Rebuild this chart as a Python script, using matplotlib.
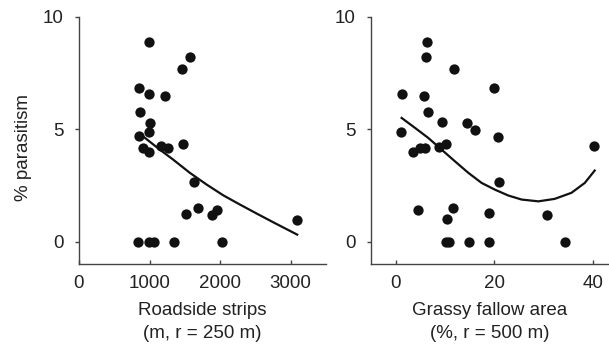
import matplotlib.pyplot as plt

plt.rcParams['font.family'] = ['Liberation Sans', 'DejaVu Sans']

# Roadside strips (m, r = 250 m) vs % parasitism
road_x = [995, 1573, 1455, 844, 995, 1223, 867, 1000, 995, 853, 1480, 900, 995,
          1156, 1262, 1630, 1680, 1520, 1887, 1949, 3095, 839, 990, 1060, 1340, 2022]
road_y = [8.89, 8.23, 7.67, 6.82, 6.57, 6.47, 5.76, 5.30, 4.90, 4.71, 4.36, 4.17, 3.99,
          4.28, 4.17, 2.65, 1.51, 1.25, 1.18, 1.42, 0.99, 0, 0, 0, 0, 0]
# fitted curve
road_fit_x = [908, 1145, 1333, 1570, 1807, 2043, 2279, 2516, 2752, 3092]
road_fit_y = [4.69, 4.10, 3.66, 3.07, 2.55, 2.07, 1.66, 1.26, 0.87, 0.32]

# Grassy fallow area (%, r = 500 m) vs % parasitism
fallow_x = [6.3, 6.2, 11.8, 1.2, 5.8, 20.0, 6.5, 9.3, 14.5, 16.0, 1.1, 20.7, 40.1,
            3.6, 5.0, 6.0, 8.7, 10.2, 20.9, 4.6, 11.6, 18.9, 10.3, 30.6,
            10.1, 10.8, 14.9, 18.8, 34.3]
fallow_y = [8.89, 8.23, 7.68, 6.59, 6.47, 6.84, 5.76, 5.32, 5.27, 4.99, 4.89, 4.68, 4.28,
            3.99, 4.19, 4.19, 4.22, 4.36, 2.64, 1.42, 1.51, 1.29, 1.00, 1.18,
            0, 0, 0, 0, 0]
fallow_fit_x = [1.2, 3.9, 6.6, 9.3, 12.0, 14.7, 17.4, 20.1, 22.8, 25.5, 28.9,
                32.2, 35.6, 38.3, 40.3]
fallow_fit_y = [5.51, 5.07, 4.62, 4.10, 3.58, 3.07, 2.62, 2.32, 2.06, 1.88, 1.80,
                1.91, 2.18, 2.62, 3.17]

fig = plt.figure(figsize=(6.09, 3.51), dpi=100)
ax1 = fig.add_axes([79 / 609, 0.247, 247 / 609, 0.7046])
ax2 = fig.add_axes([371 / 609, 0.247, 238 / 609, 0.7046])

panels = [
    (ax1, road_x, road_y, road_fit_x, road_fit_y, (0, 3500), [0, 1000, 2000, 3000],
     "Roadside strips\n(m, r = 250 m)"),
    (ax2, fallow_x, fallow_y, fallow_fit_x, fallow_fit_y, (-5, 43.2), [0, 20, 40],
     "Grassy fallow area\n(%, r = 500 m)"),
]

fs = 13.5
for ax, x, y, fx, fy, xlim, xticks, xlabel in panels:
    ax.scatter(x, y, s=55, color='#111111', zorder=3, linewidths=0)
    ax.plot(fx, fy, color='#111111', lw=1.6, zorder=2)
    ax.set_xlim(*xlim)
    ax.set_ylim(-1, 10)
    ax.set_xticks(xticks)
    ax.set_yticks([0, 5, 10])
    for s in ['top', 'right']:
        ax.spines[s].set_visible(False)
    for s in ['left', 'bottom']:
        ax.spines[s].set_color('#444444')
        ax.spines[s].set_linewidth(1.0)
    ax.tick_params(axis='x', direction='in', length=3, width=1, color='#444444',
                   pad=8, labelsize=fs, labelcolor='#222222')
    ax.tick_params(axis='y', direction='out', length=3, width=1, color='#444444',
                   pad=8, labelsize=fs, labelcolor='#222222')
    ax.set_xlabel(xlabel, fontsize=fs, color='#222222', linespacing=1.45, labelpad=7)

fig.text(24 / 609, 1 - 147 / 351, "% parasitism", rotation=90, fontsize=fs,
         color='#222222', ha='center', va='center')

fig.savefig("out.png", dpi=100)
